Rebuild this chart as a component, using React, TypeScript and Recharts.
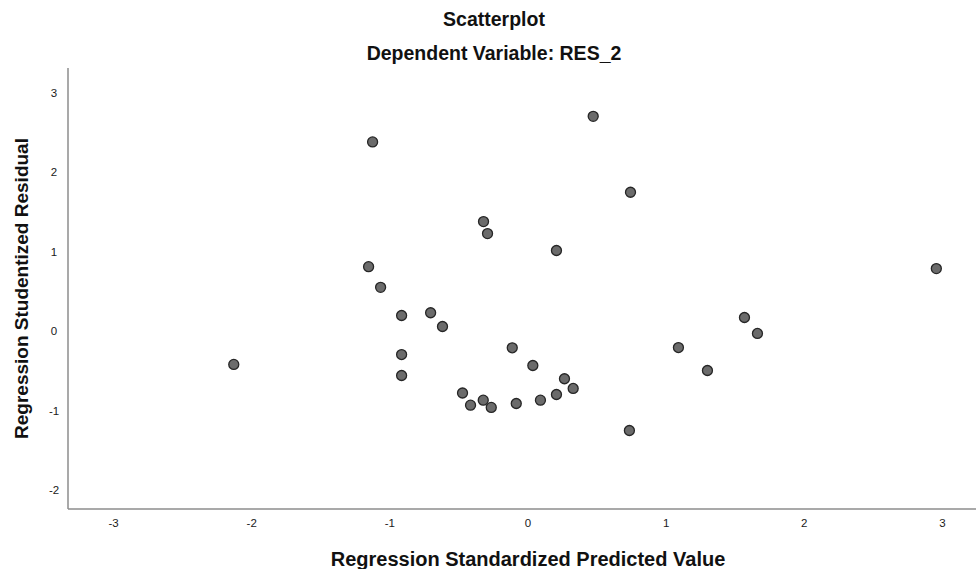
import { ScatterChart, Scatter, XAxis, YAxis } from 'recharts';

// Regression Standardized Predicted Value (x) and Studentized Residual (y)
const PREDICTED = [
  -2.13, -1.125, -1.154, -1.067, -0.915, -0.915, -0.915, -0.705, -0.619, -0.322, -0.293,
  -0.474, -0.416, -0.324, -0.266, -0.114, -0.085, 0.035, 0.09, 0.206, 0.206, 0.264,
  0.327, 0.472, 0.742, 0.734, 1.089, 1.299, 1.567, 1.661, 2.956,
];
const RESIDUAL = [
  -0.42, 2.38, 0.81, 0.55, 0.195, -0.296, -0.56, 0.23, 0.057, 1.377, 1.226,
  -0.78, -0.933, -0.87, -0.962, -0.211, -0.912, -0.434, -0.87, 1.013, -0.799, -0.601,
  -0.723, 2.702, 1.746, -1.252, -0.208, -0.497, 0.17, -0.031, 0.786,
];
const X_TICKS = [-3, -2, -1, 0, 1, 2, 3];
const Y_TICKS = [-2, -1, 0, 1, 2, 3];

const TITLE = 'Scatterplot';
const SUBTITLE = 'Dependent Variable: RES_2';

const points = PREDICTED.map((x, i) => ({ x, y: RESIDUAL[i] }));

const FONT = '"Liberation Sans", Arial, sans-serif';
const AXIS_LINE = { stroke: '#8c8c8c', strokeWidth: 1.5 };

const Dot = (props: any) => (
  <circle cx={props.cx} cy={props.cy} r={5} fill="#6b6b6b" stroke="#262626" strokeWidth={1.3} />
);

const renderYTick = ({ x, y, payload }: any) => (
  <text x={x} y={y} dy="0.355em" textAnchor="middle" fontSize={11.5} fill="#1a1a1a" fontFamily={FONT}>
    {payload.value}
  </text>
);

const renderXTick = ({ x, y, payload }: any) => (
  <text x={x} y={y} dy="0.71em" textAnchor="middle" fontSize={11.5} fill="#1a1a1a" fontFamily={FONT}>
    {payload.value}
  </text>
);

export default function App() {
  return (
    <div style={{ position: 'absolute', left: 0, top: 0, width: 976, height: 569, overflow: 'hidden', background: '#fff' }}>
      <svg width={988} height={80} style={{ position: 'absolute', left: 0, top: 0 }}>
        <text x={494} y={26} textAnchor="middle" fontSize={19.5} fontWeight="bold" fontFamily={FONT} fill="#111">
          {TITLE}
        </text>
        <text x={494} y={60} textAnchor="middle" fontSize={19.5} fontWeight="bold" fontFamily={FONT} fill="#111">
          {SUBTITLE}
        </text>
      </svg>
      <ScatterChart width={988} height={569} margin={{ top: 68, right: 0, bottom: 0, left: 0 }}>
        <XAxis
          type="number"
          dataKey="x"
          domain={[-3.33, 3.33]}
          ticks={X_TICKS}
          allowDataOverflow
          height={60}
          tickLine={false}
          tickSize={0}
          tickMargin={10}
          axisLine={AXIS_LINE}
          tick={renderXTick}
          label={{
            value: 'Regression Standardized Predicted Value',
            position: 'insideBottom',
            offset: 3,
            style: { fontSize: 20, fontWeight: 'bold', fill: '#111', fontFamily: FONT },
          }}
        />
        <YAxis
          type="number"
          dataKey="y"
          domain={[-2.24, 3.31]}
          ticks={Y_TICKS}
          allowDataOverflow
          width={68}
          tickLine={false}
          tickSize={0}
          tickMargin={14}
          axisLine={AXIS_LINE}
          tick={renderYTick}
          label={{
            value: 'Regression Studentized Residual',
            angle: -90,
            position: 'insideLeft',
            offset: 21,
            style: { fontSize: 19, fontWeight: 'bold', fill: '#111', fontFamily: FONT, textAnchor: 'middle' },
          }}
        />
        <Scatter data={points} shape={<Dot />} isAnimationActive={false} />
      </ScatterChart>
    </div>
  );
}
